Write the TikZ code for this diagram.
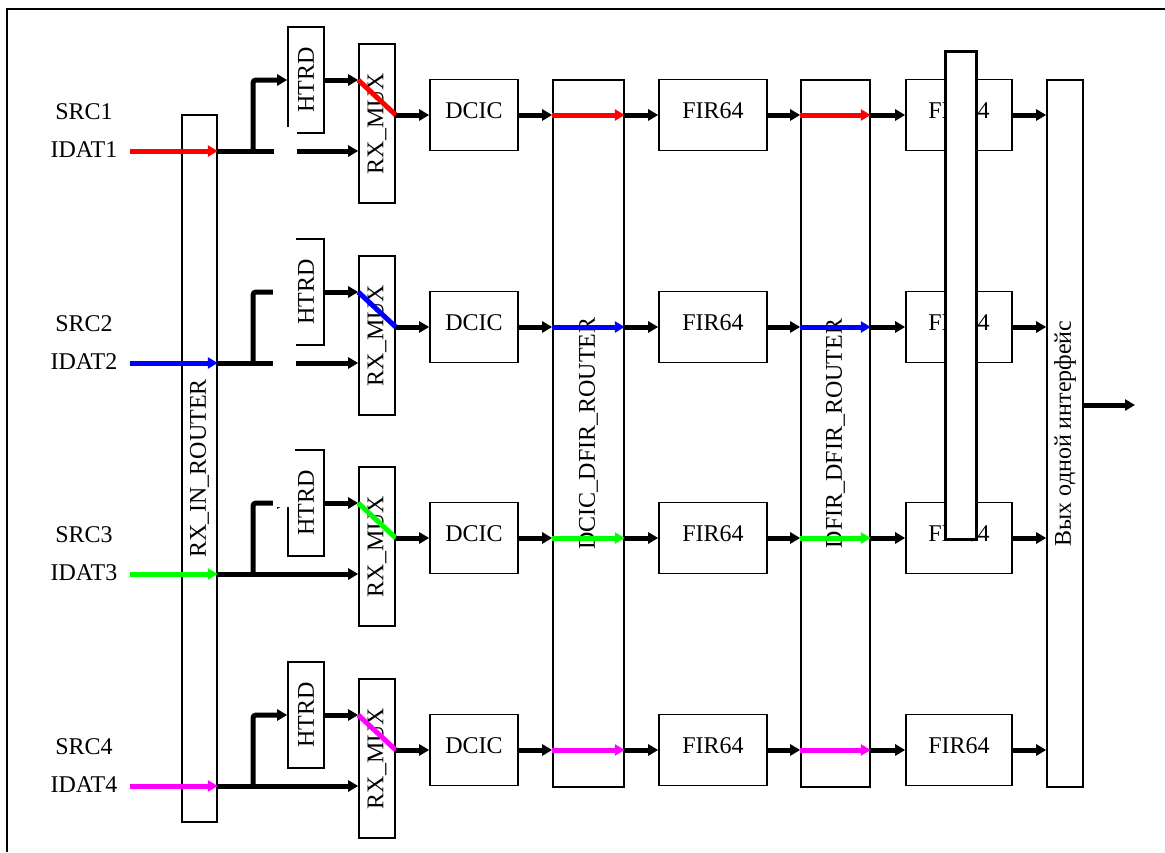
\documentclass[tikz,border=0pt]{standalone}
\usepackage{fontspec}
\setmainfont{Liberation Serif}
\usetikzlibrary{arrows.meta}
\definecolor{sred}{RGB}{255,0,0}
\definecolor{sgreen}{RGB}{0,255,0}
\definecolor{sblue}{RGB}{0,0,255}
\definecolor{smagenta}{RGB}{255,0,255}
\newcommand{\diagfont}{\fontsize{24}{28}\selectfont}

\begin{document}
\begin{tikzpicture}[x=1pt, y=-1pt, line width=1.6pt,
  box/.style={draw, inner sep=0pt, font=\diagfont, text height=16pt, text depth=10pt},
  vtext/.style={rotate=90, inner sep=0pt, font=\diagfont},
  txt/.style={inner sep=0pt, font=\diagfont},
  sig/.style={line width=5pt, -{Triangle[length=10pt,width=11pt]}},
  wire/.style={line width=5pt},
  patch/.style={fill=white, draw=none}]
\useasboundingbox (0,0) rectangle (1165,852);
\draw[line width=2pt] (1165,9) -- (7,9) -- (7,852);

% routers and output
\node[box, minimum width=35pt, minimum height=707pt] (rin) at (199.5,468.5) {};
\node[vtext] (rint) at (rin) {RX\_IN\_ROUTER};
\node[box, minimum width=71pt, minimum height=707pt] (rdd) at (588.5,433.5) {};
\node[vtext] (rddt) at (rdd) {DCIC\_DFIR\_ROUTER};
\node[box, minimum width=69pt, minimum height=707pt] (rff) at (835.5,433.5) {};
\node[vtext] (rfft) at (rff) {DFIR\_DFIR\_ROUTER};
\node[box, minimum width=36pt, minimum height=707pt] (rout) at (1065,433.5) {};
\node[vtext] (routt) at (rout) {Вых одной интерфейс};
\coordinate (br) at (253,0);
\coordinate (outend) at (1135,405);
\draw[sig] (outend -| rout.east) -- (outend);

% four channels
\foreach \i/\r/\c in {1/115/sred, 2/327/sblue, 3/538/sgreen, 4/750/smagenta} {
  \node[txt] (src\i) at (84,\r-3) {SRC\i};
  \node[txt] (idat\i) at (84,\r+35) {IDAT\i};
  \coordinate (in\i) at (130,\r+36);
  \node[box, minimum width=36pt, minimum height=106pt] (htrd\i) at (306,\r-35) {};
  \node[vtext] (htrd\i t) at (htrd\i) {HTRD};
  \node[box, minimum width=36pt, minimum height=159pt] (mux\i) at (377,\r+8.5) {};
  \node[vtext] (mux\i t) at (mux\i) {RX\_MUX};
  \node[box, minimum width=88pt, minimum height=71pt] (dcic\i) at (474,\r) {DCIC};
  \node[box, minimum width=108pt, minimum height=71pt] (fira\i) at (713,\r) {FIR64};
  \node[box, minimum width=106pt, minimum height=71pt] (firb\i) at (959,\r) {FIR64};

  \draw[sig, \c] (in\i) -- (in\i -| rin.east);
  \draw[sig] (in\i -| rin.east) -- (in\i -| mux\i.west);
  \draw[sig, rounded corners=3pt] (in\i -| br) |- (htrd\i.west);
  \draw[sig] (htrd\i.east) -- (htrd\i.east -| mux\i.west);
  \draw[wire, \c] (htrd\i.east -| mux\i.west) -- (dcic\i.west -| mux\i.east);
  \draw[sig] (dcic\i.west -| mux\i.east) -- (dcic\i.west);
  \draw[sig] (dcic\i.east) -- (dcic\i.east -| rdd.west);
  \draw[sig, \c] (dcic\i.east -| rdd.west) -- (dcic\i.east -| rdd.east);
  \draw[sig] (fira\i.west -| rdd.east) -- (fira\i.west);
  \draw[sig] (fira\i.east) -- (fira\i.east -| rff.west);
  \draw[sig, \c] (fira\i.east -| rff.west) -- (fira\i.east -| rff.east);
  \draw[sig] (firb\i.west -| rff.east) -- (firb\i.west);
  \draw[sig] (firb\i.east) -- (firb\i.east -| rout.west);
}

% gaps and the cover bar
\fill[patch] (274,127) rectangle (297,160);
\fill[patch] (273,236) rectangle (296,370);
\fill[patch] (273,445) rectangle (295,507);
\node[draw, fill=white, line width=3pt, minimum width=31pt, minimum height=488pt] (cover) at (960.5,295) {};
\end{tikzpicture}
\end{document}
